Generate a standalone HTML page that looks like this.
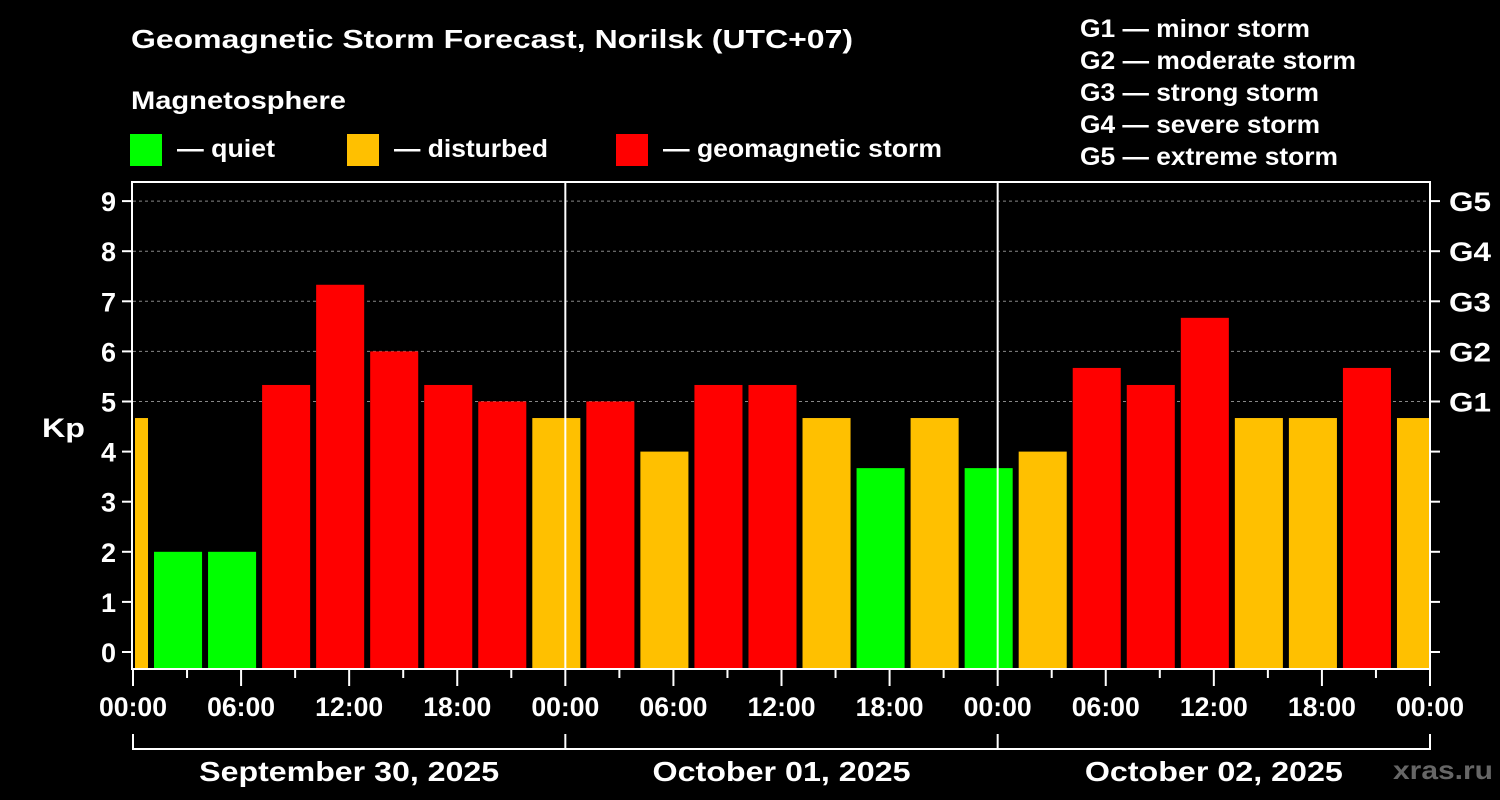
<!DOCTYPE html>
<html><head><meta charset="utf-8"><style>
body{margin:0;background:#000;}
svg{display:block;font-family:"Liberation Sans",sans-serif;font-weight:bold;}
</style></head><body>
<svg id="c" width="1500" height="800" viewBox="0 0 1500 800">
<rect width="1500" height="800" fill="#000"/>
<text x="131" y="48" fill="#fff" font-size="26" textLength="722" lengthAdjust="spacingAndGlyphs">Geomagnetic Storm Forecast, Norilsk (UTC+07)</text>
<text x="131" y="109" fill="#fff" font-size="25" textLength="215" lengthAdjust="spacingAndGlyphs">Magnetosphere</text>
<g><rect x="130" y="134" width="32" height="32" fill="#00ff00"/><text x="177" y="157" fill="#fff" font-size="25" textLength="98" lengthAdjust="spacingAndGlyphs">— quiet</text></g>
<g><rect x="347" y="134" width="32" height="32" fill="#ffc000"/><text x="394" y="157" fill="#fff" font-size="25" textLength="154" lengthAdjust="spacingAndGlyphs">— disturbed</text></g>
<g><rect x="616" y="134" width="32" height="32" fill="#ff0000"/><text x="663" y="157" fill="#fff" font-size="25" textLength="279" lengthAdjust="spacingAndGlyphs">— geomagnetic storm</text></g>
<g fill="#fff" font-size="25">
<text x="1080" y="37" textLength="230" lengthAdjust="spacingAndGlyphs">G1 — minor storm</text>
<text x="1080" y="69" textLength="276" lengthAdjust="spacingAndGlyphs">G2 — moderate storm</text>
<text x="1080" y="101" textLength="239" lengthAdjust="spacingAndGlyphs">G3 — strong storm</text>
<text x="1080" y="133" textLength="240" lengthAdjust="spacingAndGlyphs">G4 — severe storm</text>
<text x="1080" y="165" textLength="258" lengthAdjust="spacingAndGlyphs">G5 — extreme storm</text>
</g>
<text x="42" y="437" fill="#fff" font-size="27" textLength="43" lengthAdjust="spacingAndGlyphs">Kp</text>
<text x="1493" y="779" fill="#666" font-size="26" text-anchor="end" textLength="100" lengthAdjust="spacingAndGlyphs">xras.ru</text>
<g id="plot"></g>
</svg>
<script>
const values=[4.67,2,2,5.33,7.33,6,5.33,5,4.67,5,4,5.33,5.33,4.67,3.67,4.67,3.67,4,5.67,5.33,6.67,4.67,4.67,5.67,4.67];
const startHour=-2;
const days=["September 30, 2025","October 01, 2025","October 02, 2025"];
const timeLabels=["00:00","06:00","12:00","18:00"];
const gLabels=["G1","G2","G3","G4","G5"];
const X0=133,X1=1430,Y0=669,Y1=182;
const hourPx=(X1-X0)/72;
const xs=h=>X0+h*hourPx;
const ys=k=>652-k*50.1;
const NS="http://www.w3.org/2000/svg";
const plot=document.getElementById('plot');
function mk(t,a,p){const e=document.createElementNS(NS,t);for(const k in a)e.setAttribute(k,a[k]);(p||plot).appendChild(e);return e;}
for(let k=5;k<=9;k++){const l=mk('line',{x1:X0,x2:X1,y1:ys(k),y2:ys(k),stroke:'#888','stroke-dasharray':'3,3','stroke-width':1});

}
values.forEach((v,i)=>{
 let a=xs(startHour+i*3)+3,b=xs(startHour+i*3+3)-3;
 a=Math.max(a,X0+2);b=Math.min(b,X1-1);
 const col=v>=5?'#ff0000':(v>=4?'#ffc000':'#00ff00');
 const r=mk('rect',{x:a,y:ys(v),width:b-a,height:Y0-ys(v),fill:col});
 
 
});
for(let d=1;d<3;d++){const l=mk('line',{x1:xs(d*24),x2:xs(d*24),y1:Y1,y2:Y0,stroke:'#fff','stroke-width':2});

}
const f=mk('rect',{x:X0-1,y:Y1,width:X1-X0+1,height:Y0-Y1,fill:'none',stroke:'#fff','stroke-width':2});


for(let k=0;k<=9;k++){
 mk('line',{x1:X0-11,x2:X0-1,y1:ys(k),y2:ys(k),stroke:'#fff','stroke-width':2});
 mk('line',{x1:X1,x2:X1+10,y1:ys(k),y2:ys(k),stroke:'#fff','stroke-width':2});
 const t=mk('text',{x:X0-17,y:ys(k)+10,fill:'#fff','font-size':27,'text-anchor':'end'});t.textContent=k;
 
 
 if(k>=5){const g=mk('text',{x:X1+19,y:ys(k)+10,fill:'#fff','font-size':27,textLength:42,lengthAdjust:'spacingAndGlyphs'});g.textContent=gLabels[k-5];
 
 }
}
for(let h=0;h<=72;h+=3){
 const long=h%6==0;
 mk('line',{x1:xs(h),x2:xs(h),y1:Y0,y2:Y0+(long?17:9),stroke:'#fff','stroke-width':2});
 if(long){const t=mk('text',{x:xs(h),y:716,fill:'#fff','font-size':27,'text-anchor':'middle',textLength:68,lengthAdjust:'spacingAndGlyphs'});t.textContent=timeLabels[(h/6)%4];
 
 }
}
mk('line',{x1:xs(0),x2:xs(72),y1:749,y2:749,stroke:'#fff','stroke-width':2});
for(let d=0;d<=3;d++)mk('line',{x1:xs(d*24),x2:xs(d*24),y1:734,y2:750,stroke:'#fff','stroke-width':2});
const dayLens=[300,258,258];
days.forEach((s,d)=>{const t=mk('text',{x:xs(d*24+12),y:781,fill:'#fff','font-size':28,'text-anchor':'middle',textLength:dayLens[d],lengthAdjust:'spacingAndGlyphs'});t.textContent=s;

});
</script>
</body></html>
